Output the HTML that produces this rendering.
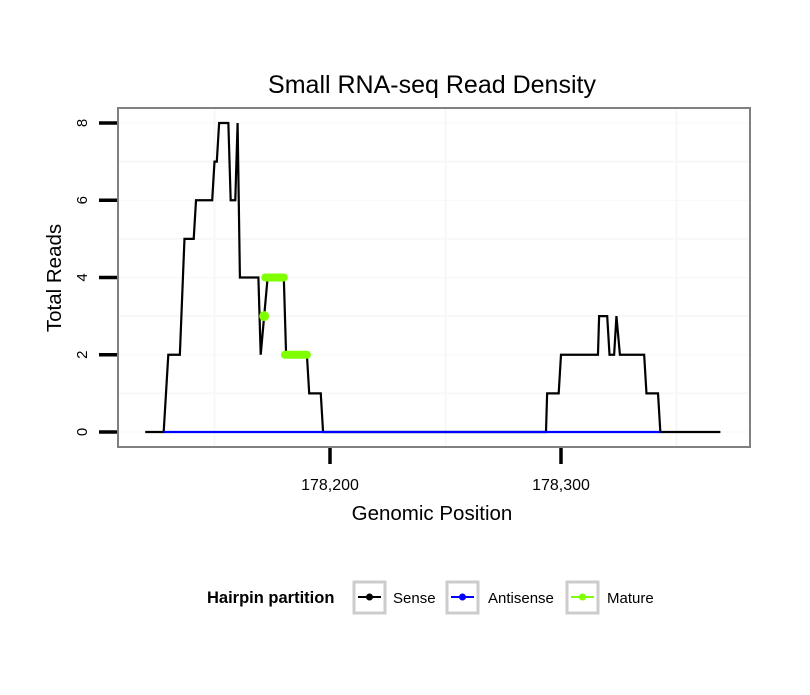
<!DOCTYPE html>
<html><head><meta charset="utf-8"><style>
body{margin:0;background:#fff}
svg text{font-family:"Liberation Sans",sans-serif}
</style></head><body>
<svg id="chart" width="810" height="690" viewBox="0 0 810 690">
<rect width="810" height="690" fill="#fff"/>
<text x="432" y="93" font-size="25" text-anchor="middle">Small RNA-seq Read Density</text>
<g id="grid"></g>
<g id="series"></g>
<rect x="118" y="108" width="632" height="339" fill="none" stroke="#808080" stroke-width="2"/>
<g id="axes"></g>
<text x="432" y="520" font-size="20.5" text-anchor="middle">Genomic Position</text>
<text transform="translate(61,278) rotate(-90)" font-size="20.5" text-anchor="middle">Total Reads</text>
<g>
<text x="207" y="603" font-size="16.5" font-weight="bold">Hairpin partition</text>
<g>
<rect x="354" y="582" width="31" height="31" fill="none" stroke="#ccc" stroke-width="3"/>
<line x1="358" y1="597" x2="381" y2="597" stroke="#000" stroke-width="2"/><circle cx="369.5" cy="597" r="3.5" fill="#000"/>
<text x="393" y="603" font-size="15">Sense</text></g>
<g>
<rect x="447" y="582" width="31" height="31" fill="none" stroke="#ccc" stroke-width="3"/>
<line x1="451" y1="597" x2="474" y2="597" stroke="#00f" stroke-width="2"/><circle cx="462.5" cy="597" r="3.5" fill="#00f"/>
<text x="488" y="603" font-size="15">Antisense</text></g>
<g>
<rect x="567" y="582" width="31" height="31" fill="none" stroke="#ccc" stroke-width="3"/>
<line x1="571" y1="597" x2="594" y2="597" stroke="#7fff00" stroke-width="2"/><circle cx="582.5" cy="597" r="3.5" fill="#7fff00"/>
<text x="607" y="603" font-size="15">Mature</text></g>
</g>
</svg>
<script>
const senseX=[178120,178128,178130,178135,178137,178141,178142,178149,178150,178151,178152,178156,178157,178159,178160,178161,178169,178170,178173,178180,178181,178190,178191,178196,178197,178293.5,178294,178299,178300,178316,178316.5,178320,178321,178323,178324,178325.5,178336,178337,178342,178343,178369];
const senseY=[0,0,2,2,5,5,6,6,7,7,8,8,6,6,8,4,4,2,4,4,2,2,1,1,0,0,1,1,2,2,3,3,2,2,3,2,2,1,1,0,0];
const antiX=[178128,178343];
const antiY=[0,0];
const matureSegX=[[178171.5,178171.5],[178172,178180],[178180.5,178190]];
const matureSegY=[3,4,2];
const yTicks=[0,2,4,6,8];
const xTicks=[178200,178300];
const xTickLabels=["178,200","178,300"];
const xGrid=[178150,178250,178350];

const NS="http://www.w3.org/2000/svg";
const sx=v=>330+(v-178200)*2.31;
const sy=v=>432-v*38.625;
function mk(tag,attrs,parent){const e=document.createElementNS(NS,tag);for(const k in attrs)e.setAttribute(k,attrs[k]);parent.appendChild(e);return e;}
const grid=document.getElementById('grid'),series=document.getElementById('series'),axes=document.getElementById('axes');
for(let v=0;v<=8;v++){const l=mk('line',{x1:119,x2:749,y1:sy(v),y2:sy(v),stroke:'#f7f7f7','stroke-width':v%2?2:1},grid);

}
xGrid.forEach(v=>{const l=mk('line',{x1:sx(v),x2:sx(v),y1:109,y2:446,stroke:'#f7f7f7','stroke-width':2},grid);

});
const sp=mk('polyline',{points:senseX.map((x,i)=>sx(x)+','+sy(senseY[i])).join(' '),fill:'none',stroke:'#000','stroke-width':2.2,'stroke-linejoin':'miter'},series);


const ap=mk('polyline',{points:antiX.map((x,i)=>sx(x)+','+sy(antiY[i])).join(' '),fill:'none',stroke:'#00f','stroke-width':2.2},series);


matureSegX.forEach((s,i)=>{const l=mk('line',{x1:sx(s[0]),x2:sx(s[1]),y1:sy(matureSegY[i]),y2:sy(matureSegY[i]),stroke:'#7fff00','stroke-width':s[0]===s[1]?10:8,'stroke-linecap':'round'},series);

});
yTicks.forEach(v=>{const t=mk('line',{x1:99,x2:117,y1:sy(v),y2:sy(v),stroke:'#000','stroke-width':3.5},axes);


const tx=mk('text',{transform:`translate(87,${sy(v)}) rotate(-90)`,'font-size':15,'text-anchor':'middle'},axes);tx.textContent=v;

});
xTicks.forEach((v,i)=>{const t=mk('line',{x1:sx(v),x2:sx(v),y1:448,y2:464,stroke:'#000','stroke-width':3.5},axes);


const tx=mk('text',{x:sx(v),y:490,'font-size':16,'text-anchor':'middle'},axes);tx.textContent=xTickLabels[i];

});
</script>
</body></html>
